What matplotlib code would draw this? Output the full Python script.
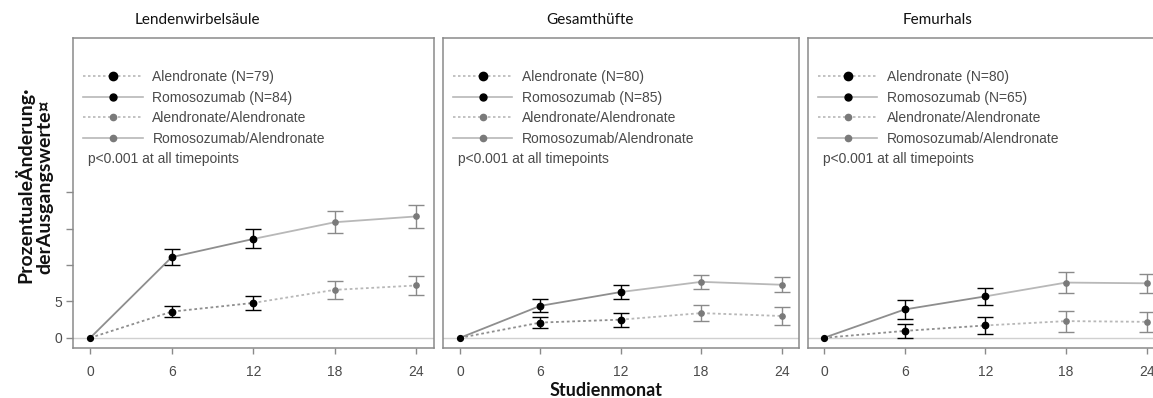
import numpy as np
import matplotlib
matplotlib.use("Agg")
import matplotlib.pyplot as plt
from matplotlib.lines import Line2D

# ---------------- data ----------------
sites = ["Lendenwirbelsäule", "Gesamthüfte", "Femurhals"]
months_early = [0, 6, 12]
months_late = [18, 24]
month_ticks = [0, 6, 12, 18, 24]

alen_n = [79, 80, 80]
romo_n = [84, 85, 65]

alen_mean = [[0, 3.6, 4.8], [0, 2.1, 2.5], [0, 0.95, 1.7]]
alen_err = [[0, 0.8, 0.95], [0, 0.75, 0.95], [0, 1.0, 1.15]]
romo_mean = [[0, 11.1, 13.6], [0, 4.4, 6.3], [0, 3.9, 5.7]]
romo_err = [[0, 1.1, 1.3], [0, 0.9, 0.95], [0, 1.3, 1.2]]

alen_alen_mean = [[6.6, 7.2], [3.4, 3.0], [2.3, 2.2]]
alen_alen_err = [[1.25, 1.3], [1.05, 1.25], [1.45, 1.4]]
romo_alen_mean = [[15.9, 16.7], [7.7, 7.3], [7.6, 7.5]]
romo_alen_err = [[1.5, 1.55], [1.0, 1.0], [1.4, 1.3]]

y_ticks = [0, 5, 10, 15, 20]
y_ticklabels = ["0", "5", "", "", ""]

p_text = "p<0.001 at all timepoints"
ylabel_lines = ["ProzentualeÄnderung·", "derAusgangswerte¤"]
xlabel = "Studienmonat"

# ---------------- style ----------------
W, H = 1153, 398
fig = plt.figure(figsize=(W / 100, H / 100), dpi=100)

line_dark = "#8e8e8e"
line_light = "#b8b8b8"
grey_mark = "#7a7a7a"
grey_err = "#8a8a8a"
frame_col = "#8a8a8a"
txt_col = "#4a4a4a"
sans = ["Liberation Sans", "DejaVu Sans"]

panel_lefts = [73, 442.7, 807.7]
panel_w = [361, 356.3, 356.4]
bottom_px, top_px = 348, 38.3
xlims = [(-1.27, 25.3), (-1.29, 25.3), (-1.21, 25.3)]
ylim = (-1.4, 41.2)

for i, site in enumerate(sites):
    ax = fig.add_axes([panel_lefts[i] / W, 1 - bottom_px / H,
                       panel_w[i] / W, (bottom_px - top_px) / H])
    ax.set_xlim(*xlims[i])
    ax.set_ylim(*ylim)
    for s in ax.spines.values():
        s.set_color(frame_col)
        s.set_linewidth(1.1)

    ax.axhline(0, color="#d0d0d0", lw=1.0, zorder=1)

    # lines
    ax.plot(months_early, romo_mean[i], color=line_dark, lw=1.3, ls="-", zorder=2)
    ax.plot(months_early[-1:] + months_late, romo_mean[i][-1:] + romo_alen_mean[i],
            color=line_light, lw=1.3, ls="-", zorder=2)
    ax.plot(months_early, alen_mean[i], color=line_dark, lw=1.3, ls=(0, (1.5, 1.5)), zorder=2)
    ax.plot(months_early[-1:] + months_late, alen_mean[i][-1:] + alen_alen_mean[i],
            color=line_light, lw=1.3, ls=(0, (1.5, 1.5)), zorder=2)

    # error bars
    for m, v, e in [(months_early[1:], romo_mean[i][1:], romo_err[i][1:]),
                    (months_early[1:], alen_mean[i][1:], alen_err[i][1:])]:
        ax.errorbar(m, v, yerr=e, fmt="o", color="black", ms=4.6, capsize=6,
                    elinewidth=1.0, capthick=1.0, zorder=4)
    for m, v, e in [(months_late, romo_alen_mean[i], romo_alen_err[i]),
                    (months_late, alen_alen_mean[i], alen_alen_err[i])]:
        ax.errorbar(m, v, yerr=e, fmt="o", color=grey_mark, ecolor=grey_err, ms=3.8,
                    capsize=6, elinewidth=1.0, capthick=1.0, zorder=4)
    ax.plot(months_early[:1], romo_mean[i][:1], "o", color="black", ms=4.2, zorder=5)

    # ticks
    ax.set_xticks(month_ticks)
    ax.set_xticklabels([str(t) for t in month_ticks], fontfamily=sans, fontsize=10,
                       color=txt_col)
    ax.tick_params(axis="x", direction="out", length=4, width=1, color=frame_col, pad=8)
    if i == 0:
        ax.set_yticks(y_ticks)
        ax.set_yticklabels(y_ticklabels, fontfamily=sans, fontsize=10, color=txt_col)
        ax.tick_params(axis="y", direction="out", length=5, width=1, color=frame_col, pad=3)
    else:
        ax.set_yticks([])

    # legend
    handles = [
        Line2D([], [], color=line_light, ls=(0, (1.5, 1.5)), lw=1.2, marker="o",
               mfc="black", mec="black", ms=6),
        Line2D([], [], color=line_light, ls="-", lw=1.2, marker="o",
               mfc="black", mec="black", ms=5),
        Line2D([], [], color=line_light, ls=(0, (1.5, 1.5)), lw=1.2, marker="o",
               mfc=grey_mark, mec=grey_mark, ms=4.5),
        Line2D([], [], color=line_light, ls="-", lw=1.2, marker="o",
               mfc=grey_mark, mec=grey_mark, ms=4.5),
    ]
    labels = [f"Alendronate (N={alen_n[i]})", f"Romosozumab (N={romo_n[i]})",
              "Alendronate/Alendronate", "Romosozumab/Alendronate"]
    leg = ax.legend(handles, labels, loc="upper left",
                    bbox_to_anchor=(10 / panel_w[i], 1 - 32 / (bottom_px - top_px)),
                    frameon=False, borderpad=0, borderaxespad=0, handlelength=4.3,
                    handletextpad=0.7, labelspacing=0.47,
                    prop={"family": sans, "size": 10})
    for t in leg.get_texts():
        t.set_color(txt_col)
    ax.text(15 / panel_w[i], 1 - (159 - top_px) / (bottom_px - top_px), p_text,
            transform=ax.transAxes, ha="left", va="center", fontfamily=sans,
            fontsize=10, color=txt_col)

# titles
title_x = [197, 590, 938]
for i, site in enumerate(sites):
    fig.text(title_x[i] / W, 1 - 20 / H, site, ha="center", va="center",
             fontfamily=["Lato", "DejaVu Sans"], fontsize=11, color="#111111")

# axis labels
fig.text(24 / W, 1 - 185 / H, ylabel_lines[0], rotation=90, ha="center", va="center",
         fontfamily=["Lato", "DejaVu Sans"], fontweight="bold", fontsize=14, color="#111111")
fig.text(45 / W, 1 - 187 / H, ylabel_lines[1], rotation=90, ha="center", va="center",
         fontfamily=["Lato", "DejaVu Sans"], fontweight="bold", fontsize=14, color="#111111")
fig.text(606 / W, 1 - 391 / H, xlabel, ha="center", va="center",
         fontfamily=["Lato", "DejaVu Sans"], fontweight="bold", fontsize=13, color="#111111")

fig.savefig("out.png", dpi=100)
